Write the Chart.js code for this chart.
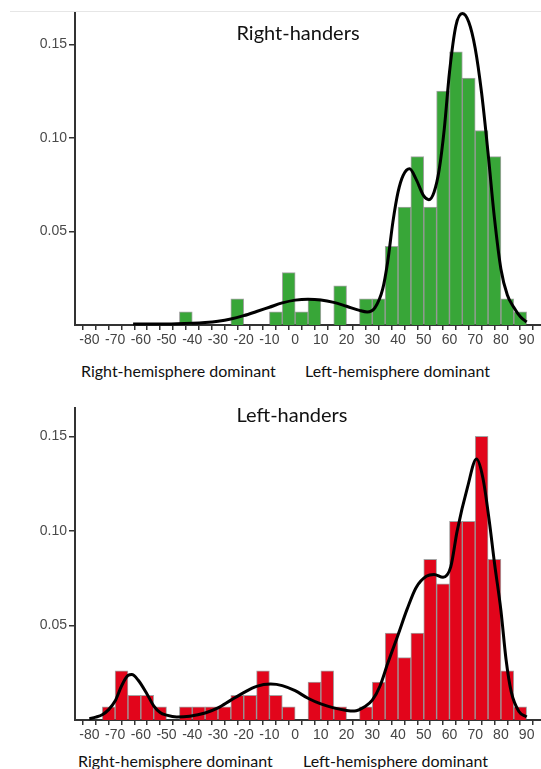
<!DOCTYPE html>
<html>
<head>
<meta charset="utf-8">
<script src="https://cdn.jsdelivr.net/npm/chart.js@4.4.1/dist/chart.umd.min.js"></script>
<style>
  body { margin: 0; background: #fff; width: 541px; height: 769px; position: relative; overflow: hidden; font-family: Lato, "Open Sans", sans-serif; color: #111; }
  .panel { position: absolute; left: 0; width: 541px; height: 352px; }
  .title { position: absolute; width: 200px; text-align: center; font-size: 20px; line-height: 20px; }
  .side { position: absolute; font-size: 16px; line-height: 16px; white-space: nowrap; }
  .rule { position: absolute; top: 11px; left: 10px; right: 0; border-top: 1px solid #e6e6e6; }
</style>
</head>
<body>
<div class="rule"></div>
<div class="panel" style="top:0"><canvas id="rightChart" width="541" height="352"></canvas></div>
<div class="panel" style="top:395px"><canvas id="leftChart" width="541" height="352"></canvas></div>

<div class="title" style="left:198px;top:22px">Right-handers</div>
<div class="side" style="left:81px;top:363px">Right-hemisphere dominant</div>
<div class="side" style="left:305px;top:363px">Left-hemisphere dominant</div>

<div class="title" style="left:192px;top:404px">Left-handers</div>
<div class="side" style="left:78px;top:753px">Right-hemisphere dominant</div>
<div class="side" style="left:303px;top:753px">Left-hemisphere dominant</div>

<script>
// histogram bins (left edge, width 5)
const bins = [-80, -75, -70, -65, -60, -55, -50, -45, -40, -35, -30, -25, -20, -15, -10, -5,
              0, 5, 10, 15, 20, 25, 30, 35, 40, 45, 50, 55, 60, 65, 70, 75, 80, 85];

// proportions per bin
const rightHist = [0, 0, 0, 0, 0, 0, 0, 0.007, 0, 0, 0, 0.014, 0, 0, 0.007, 0.028,
                   0.007, 0.014, 0, 0.021, 0, 0.014, 0.014, 0.042, 0.063, 0.090, 0.063, 0.125, 0.146, 0.132, 0.104, 0.090, 0.014, 0.007];
const leftHist = [0, 0.007, 0.026, 0.013, 0.013, 0.007, 0, 0.007, 0.007, 0.007, 0.007, 0.013, 0.013, 0.026, 0.013, 0.007,
                  0, 0.020, 0.026, 0.007, 0, 0.007, 0.020, 0.046, 0.033, 0.046, 0.085, 0.072, 0.105, 0.105, 0.150, 0.085, 0.026, 0.007];

// density curves
const rightCurveX = [-63, -50, -40, -35, -30, -25, -20, -15, -10, -5, 0, 5, 10, 15, 20, 25, 28, 31, 34, 36, 38, 40, 42, 44.5,
                     47, 50, 52, 54, 56, 58, 60, 62.5, 65, 67.5, 70, 72.5, 75, 77.5, 80, 82.5, 85, 87.5, 90];
const rightCurveY = [0.0005, 0.0005, 0.0009, 0.0013, 0.002, 0.0032, 0.005, 0.0072, 0.0095, 0.0118, 0.0133, 0.0138, 0.0134, 0.0121, 0.0100, 0.0078, 0.0070, 0.0092, 0.019, 0.034, 0.055, 0.071, 0.080, 0.0835,
                     0.078, 0.069, 0.067, 0.071, 0.083, 0.105, 0.135, 0.160, 0.1665, 0.162, 0.148, 0.124, 0.092, 0.057, 0.030, 0.016, 0.0095, 0.0045, 0.0016];

const leftCurveX = [-80, -77.5, -75, -72.5, -70, -67.5, -65, -63.5, -61, -57.5, -55, -52.5, -50, -46, -41, -35, -30, -25, -20, -15, -9.5, -5,
                    0, 5, 10, 15, 20, 23, 27, 30, 33, 36, 40, 43.5, 47, 51, 54, 57.5, 60.5, 63, 67, 70.5, 73, 75.5, 77.5, 80, 82, 84, 87, 90];
const leftCurveY = [0.0006, 0.0015, 0.0028, 0.0055, 0.010, 0.018, 0.0235, 0.024, 0.021, 0.0135, 0.0075, 0.004, 0.0026, 0.0016, 0.002, 0.0037, 0.0064, 0.0105, 0.0145, 0.0178, 0.019, 0.0182,
                    0.0155, 0.0115, 0.0085, 0.0064, 0.005, 0.0047, 0.007, 0.0105, 0.018, 0.030, 0.045, 0.0585, 0.070, 0.076, 0.077, 0.0755, 0.081, 0.100, 0.123, 0.138, 0.128, 0.105, 0.083, 0.058, 0.032, 0.015, 0.0045, 0.0016];

const xTicks = [-80, -75, -70, -65, -60, -55, -50, -45, -40, -35, -30, -25, -20, -15, -10, -5,
                0, 5, 10, 15, 20, 25, 30, 35, 40, 45, 50, 55, 60, 65, 70, 75, 80, 85, 90];
const yTicks = [0.05, 0.10, 0.15];

const axisColor = '#333';
const tickFont = { family: 'Liberation Sans', size: 14 };

function makePanel(id, hist, curveX, curveY, barColor, yMax) {
    const ctx = document.getElementById(id).getContext('2d');
    return new Chart(ctx, {
        type: 'bar',
        data: {
            datasets: [
                {
                    type: 'line',
                    data: curveX.map((x, i) => ({ x: x, y: curveY[i] })),
                    borderColor: '#000',
                    borderWidth: 3,
                    pointRadius: 0,
                    cubicInterpolationMode: 'monotone',
                    fill: false,
                    clip: false,
                    order: 1
                },
                {
                    type: 'bar',
                    data: bins.map((b, i) => ({ x: b + 2.5, y: hist[i] })).filter(p => p.y > 0),
                    backgroundColor: barColor,
                    borderColor: 'rgba(90, 90, 90, 0.55)',
                    borderWidth: 1,
                    barPercentage: 1,
                    categoryPercentage: 1,
                    grouped: false,
                    order: 2
                }
            ]
        },
        options: {
            responsive: false,
            animation: false,
            layout: { padding: { top: 13, left: 0, right: 0, bottom: 0 } },
            plugins: { legend: { display: false }, tooltip: { enabled: false }, title: { display: false } },
            scales: {
                x: {
                    type: 'linear',
                    min: -83,
                    max: 93,
                    afterBuildTicks: s => { s.ticks = xTicks.map(v => ({ value: v })); },
                    afterFit: s => { s.height = 27; s.paddingLeft = 0; s.paddingRight = 0; },
                    ticks: {
                        autoSkip: false,
                        maxRotation: 0,
                        padding: 2,
                        color: '#444',
                        font: tickFont,
                        callback: v => (v % 10 === 0 ? String(v) : '')
                    },
                    grid: { drawOnChartArea: false, drawTicks: true, tickLength: 5, color: axisColor, lineWidth: 1.5 },
                    border: { display: true, color: axisColor, width: 2 }
                },
                y: {
                    min: 0,
                    max: yMax,
                    afterBuildTicks: s => { s.ticks = yTicks.map(v => ({ value: v })); },
                    afterFit: s => { s.width = 75; },
                    ticks: {
                        padding: 2,
                        color: '#4a4a4a',
                        font: tickFont,
                        callback: v => v.toFixed(2)
                    },
                    grid: { drawOnChartArea: false, drawTicks: true, tickLength: 6, color: axisColor, lineWidth: 1.5 },
                    border: { display: true, color: axisColor, width: 2 }
                }
            }
        }
    });
}

makePanel('rightChart', rightHist, rightCurveX, rightCurveY, '#38a638', 0.1668);
makePanel('leftChart', leftHist, leftCurveX, leftCurveY, '#e2051b', 0.165);
</script>
</body>
</html>
